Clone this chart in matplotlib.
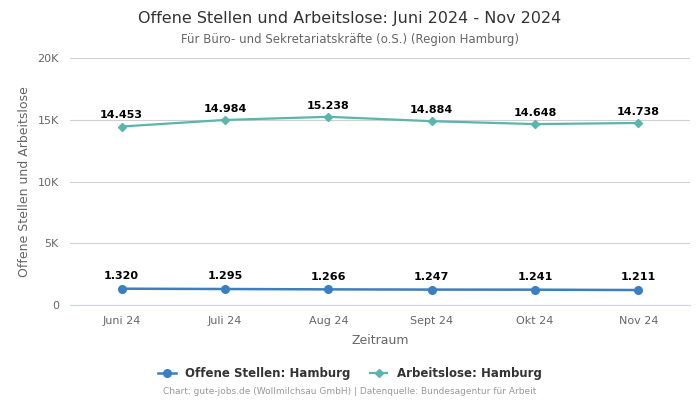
import matplotlib
matplotlib.use("Agg")
import matplotlib.pyplot as plt
from matplotlib.ticker import FuncFormatter

categories = ["Juni 24", "Juli 24", "Aug 24", "Sept 24", "Okt 24", "Nov 24"]
offene_stellen = [1320, 1295, 1266, 1247, 1241, 1211]
arbeitslose = [14453, 14984, 15238, 14884, 14648, 14738]

def de(v):
    return f"{v:,}".replace(",", ".")

fig = plt.figure(figsize=(7, 4), dpi=100)
ax = fig.add_axes([0.1, 0.2375, 0.8857, 0.6175])

x = list(range(len(categories)))
c_blue = "#3a7fc1"
c_teal = "#5ab5ac"
ax.plot(x, offene_stellen, color=c_blue, lw=1.8, marker="o", ms=5.5, label="Offene Stellen: Hamburg", zorder=3)
ax.plot(x, arbeitslose, color=c_teal, lw=1.6, marker="D", ms=3.8, label="Arbeitslose: Hamburg", zorder=3)

for xi, v in zip(x, offene_stellen):
    ax.annotate(de(v), (xi, v), xytext=(0, 5.5), textcoords="offset points", ha="center", va="bottom",
                fontsize=8, fontweight="bold", color="black")
for xi, v in zip(x, arbeitslose):
    ax.annotate(de(v), (xi, v), xytext=(0, 4.5), textcoords="offset points", ha="center", va="bottom",
                fontsize=8, fontweight="bold", color="black")

ax.set_xlim(-0.5, len(categories) - 0.5)
ax.set_ylim(0, 20000)
ax.set_yticks([0, 5000, 10000, 15000, 20000])
ax.yaxis.set_major_formatter(FuncFormatter(lambda v, p: "0" if v == 0 else f"{int(v/1000)}K"))
ax.set_xticks(x)
ax.set_xticklabels(categories)
ax.grid(axis="y", color="#d0d0d0", lw=0.8)
ax.set_axisbelow(True)
for s in ["top", "right", "left"]:
    ax.spines[s].set_visible(False)
ax.spines["bottom"].set_color("#ccd6eb")
ax.tick_params(axis="both", length=0, labelsize=8, colors="#666666", pad=8)
ax.set_xlabel("Zeitraum", fontsize=9, color="#666666", labelpad=6)
ax.set_ylabel("Offene Stellen und Arbeitslose", fontsize=9, color="#666666", labelpad=5)

fig.text(0.5, 0.955, "Offene Stellen und Arbeitslose: Juni 2024 - Nov 2024", ha="center", va="center",
         fontsize=11.5, color="#333333")
fig.text(0.5, 0.902, "Für Büro- und Sekretariatskräfte (o.S.) (Region Hamburg)", ha="center", va="center",
         fontsize=8.5, color="#666666")

leg = fig.legend(loc="center", bbox_to_anchor=(0.5, 0.067), ncol=2, frameon=False,
                 prop={"size": 8.5, "weight": "bold"}, handlelength=1.5, columnspacing=1.6)
for t in leg.get_texts():
    t.set_color("#333333")

fig.text(0.5, 0.02, "Chart: gute-jobs.de (Wollmilchsau GmbH) | Datenquelle: Bundesagentur für Arbeit",
         ha="center", va="center", fontsize=6.5, color="#999999")

fig.savefig("out.png", dpi=100)
